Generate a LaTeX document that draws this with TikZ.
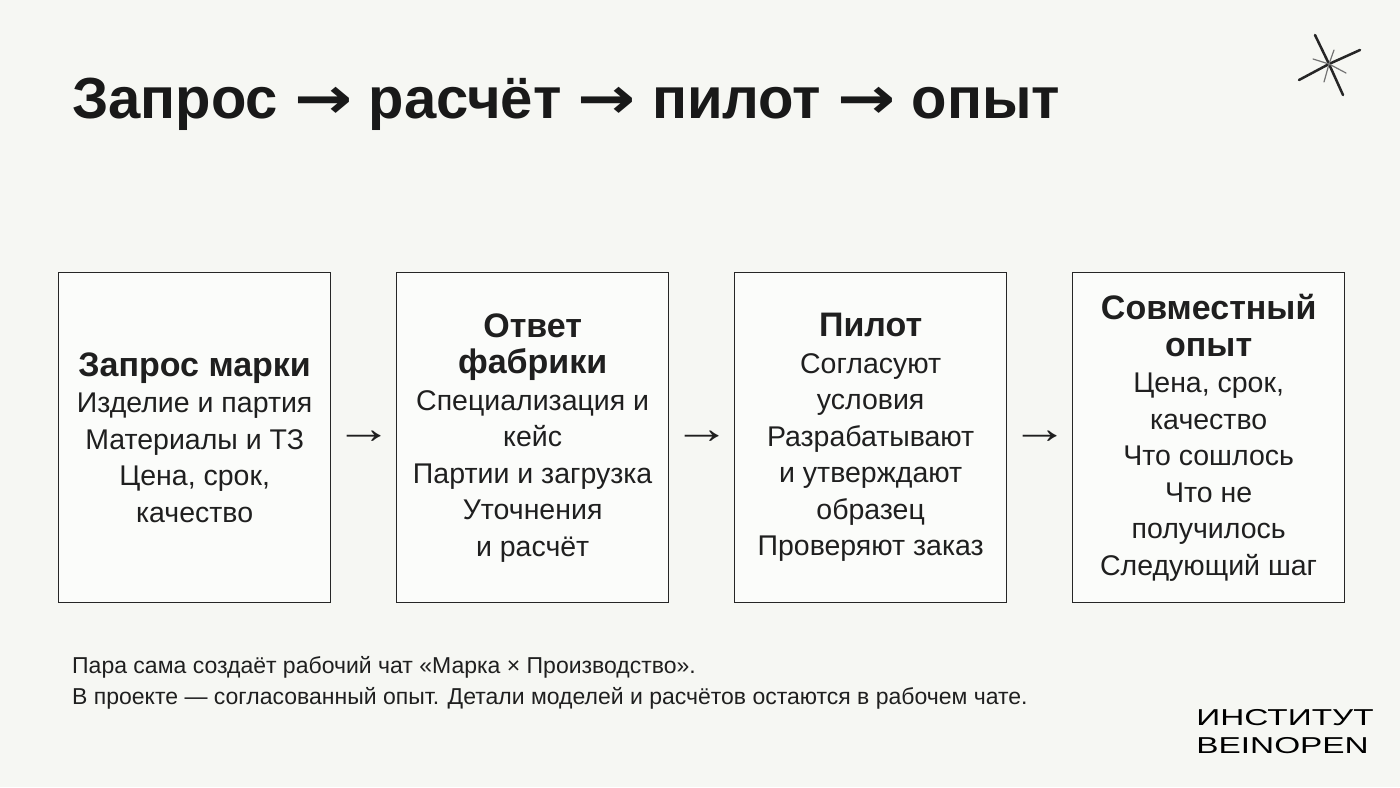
\documentclass[tikz,border=0pt]{standalone}
\usepackage{fontspec}
\setmainfont{Liberation Sans}
\newfontfamily\arrfont{DejaVu Sans}
\usetikzlibrary{calc}
\definecolor{bgc}{HTML}{F6F7F3}
\newcommand{\tarr}{{\arrfont\fontsize{58}{60}\selectfont\scalebox{1.2}[1]{→}}}
\begin{document}
\begin{tikzpicture}[x=1pt,y=-1pt,
 box/.style={draw=black!85,line width=1.3pt,fill=white!60!bgc,minimum width=272pt,minimum height=330pt,anchor=north west,inner sep=0pt},
 txt/.style={align=center,font=\fontsize{28.5}{36.5}\selectfont,text=black!88},
 arr/.style={font=\fontsize{44}{44}\selectfont,text=black!88,xscale=1.3}]
\fill[bgc] (0,0) rectangle (1400,787);
\useasboundingbox (0,0) rectangle (1400,787);
\node[anchor=west,font=\fontsize{58}{60}\bfseries\selectfont,text=black!90,inner sep=0pt] (title) at (72,104) {Запрос \tarr{} расчёт \tarr{} пилот \tarr{} опыт};
\foreach \n/\x in {a/58,b/396,c/734,d/1072}{\node[box] (\n) at (\x,272) {};}
\node[txt] (ta) at (a.center) {\textbf{\fontsize{34}{44}\selectfont Запрос марки}\\Изделие и партия\\Материалы и ТЗ\\Цена, срок,\\качество};
\node[txt] (tb) at (b.center) {\textbf{\fontsize{34}{44}\selectfont Ответ}\\\textbf{\fontsize{34}{44}\selectfont фабрики}\\Специализация и\\кейс\\Партии и загрузка\\Уточнения\\и расчёт};
\node[txt] (tc) at (c.center) {\textbf{\fontsize{34}{44}\selectfont Пилот}\\Согласуют\\условия\\Разрабатывают\\и утверждают\\образец\\Проверяют заказ};
\node[txt] (td) at (d.center) {\textbf{\fontsize{34}{44}\selectfont Совместный}\\\textbf{\fontsize{34}{44}\selectfont опыт}\\Цена, срок,\\качество\\Что сошлось\\Что не\\получилось\\Следующий шаг};
\node[arr] (r1) at ($(a.east)!0.5!(b.west)$) {→};
\node[arr] (r2) at ($(b.east)!0.5!(c.west)$) {→};
\node[arr] (r3) at ($(c.east)!0.5!(d.west)$) {→};
\node[anchor=north west,align=left,font=\fontsize{23}{31}\selectfont,text=black!88,inner sep=0pt] (note) at (72,656) {Пара сама создаёт рабочий чат «Марка × Производство».\\В проекте — согласованный опыт. Детали моделей и расчётов остаются в рабочем чате.};
\node[anchor=north east,align=left,font=\fontsize{23}{28}\selectfont,inner sep=0pt,xscale=1.45] (logo) at (1374,709) {ИНСТИТУТ\\BEINOPEN};
\coordinate (s) at (1329,64);
\draw[line width=2.5pt,line cap=round,black!85] (1315,35) -- (s) -- (1343,95);
\draw[line width=2.5pt,line cap=round,black!85] (1299,80) -- (s) -- (1360,50);
\draw[line width=1.2pt,line cap=round,black!55] (1313,59) -- (s) -- (1346,73);
\draw[line width=1.2pt,line cap=round,black!55] (1334,50) -- (s) -- (1324,82);
\end{tikzpicture}
\end{document}
